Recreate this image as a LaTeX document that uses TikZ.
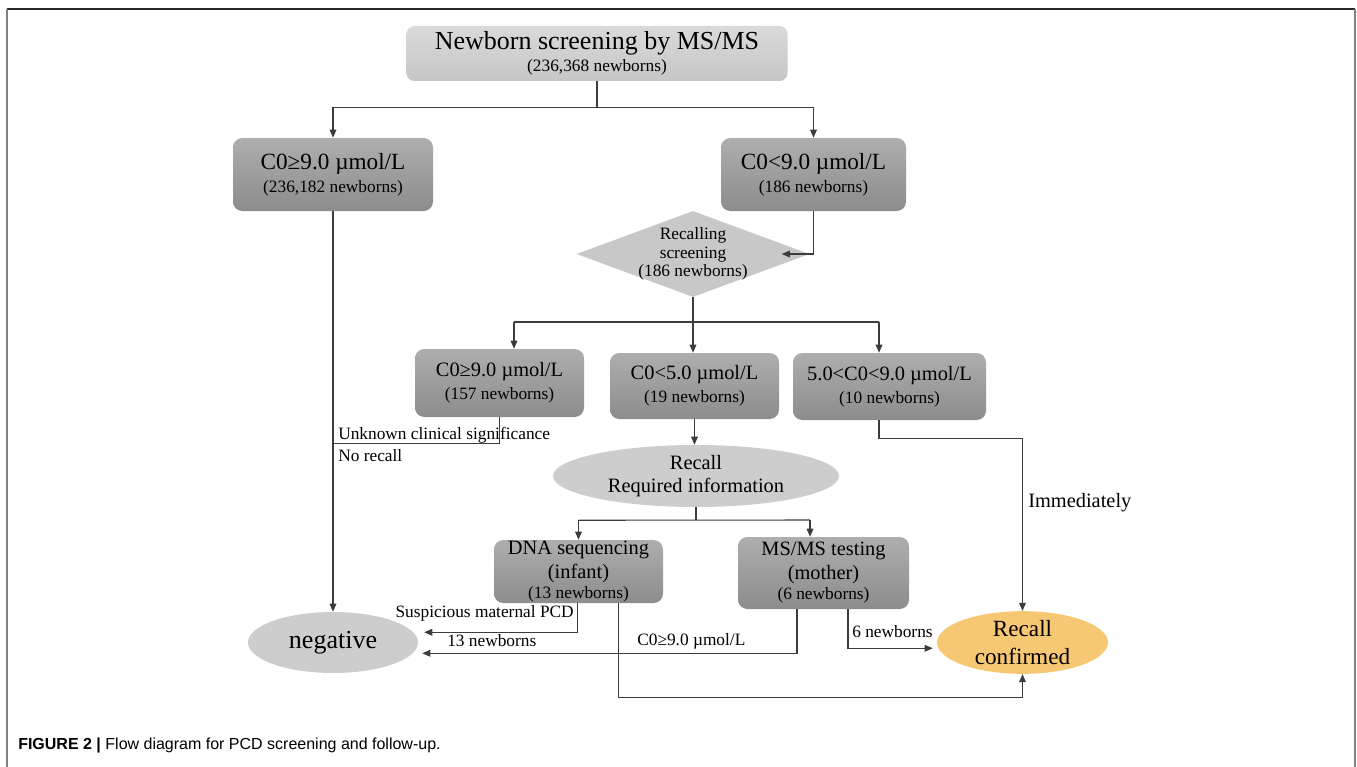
\documentclass[tikz,border=0pt]{standalone}
\usepackage{fontspec}
\setmainfont{Liberation Serif}
\newfontfamily\capfont{Liberation Sans}
\usepackage{tikz}
\usetikzlibrary{shapes.geometric, arrows.meta, positioning, calc}
\definecolor{cTopA}{RGB}{218,218,218}
\definecolor{cTopB}{RGB}{198,198,198}
\definecolor{cBoxA}{RGB}{174,174,174}
\definecolor{cBoxB}{RGB}{140,140,140}
\definecolor{cDiam}{RGB}{200,200,200}
\definecolor{cOval}{RGB}{205,205,205}
\definecolor{cConf}{RGB}{247,200,115}
\definecolor{cLine}{RGB}{60,60,60}
\newcommand{\countline}[1]{{\fontsize{13}{15}\selectfont #1}}
\tikzset{
	topbox/.style  ={rectangle, rounded corners=6pt, minimum width=285.75pt, minimum height=41.25pt, align=center, top color=cTopA, bottom color=cTopB, inner sep=0pt, font=\fontsize{19.5}{16.5}\selectfont},
	graybox/.style ={rectangle, rounded corners=7pt, minimum height=54.75pt, align=center, top color=cBoxA, bottom color=cBoxB, inner sep=0pt, font=\fontsize{17.4}{17}\selectfont},
	midbox/.style  ={rectangle, rounded corners=7pt, align=center, top color=cBoxA, bottom color=cBoxB, inner sep=0pt, font=\fontsize{15.3}{17}\selectfont},
	decision/.style={diamond, aspect=2.7, minimum width=174.75pt, minimum height=64.5pt, fill=cDiam, inner sep=-8pt, align=center, font=\fontsize{13}{14}\selectfont},
	oval/.style    ={ellipse, fill=cOval, inner sep=0pt, align=center},
	flowarrow/.style={-{Triangle[length=6pt, width=5pt]}, draw=cLine, line width=0.8pt},
	conn/.style    ={draw=cLine, line width=0.8pt},
	lbl/.style     ={inner sep=0pt, font=\fontsize{13}{15}\selectfont},
}
\begin{document}
\begin{tikzpicture}[x=0.75pt, y=-0.75pt]
	\useasboundingbox (0,0) rectangle (1357,767);
	% frame of the figure
	\draw[black!85, line width=1pt] (7,9) -- (1355,9);
	\draw[gray, line width=1.2pt] (7,9) -- (7,767) (1355,9) -- (1355,767);

	\node[topbox] (nbs) at (597,53.5) {Newborn screening by MS/MS\\\countline{(236,368 newborns)}};
	\node[graybox, minimum width=150pt] (hi) at (333,174.5) {C0≥9.0 µmol/L\\\countline{(236,182 newborns)}};
	\node[graybox, minimum width=138.75pt] (lo) at (813.5,174.5) {C0<9.0 µmol/L\\\countline{(186 newborns)}};
	\node[decision] (rs) at (693,254) {Recalling\\screening\\(186 newborns)};

	\node[midbox, minimum width=126.75pt, minimum height=51pt] (hi2) at (499.5,383) {C0≥9.0 µmol/L\\\countline{(157 newborns)}};
	\node[midbox, minimum width=126.75pt, minimum height=49.5pt] (mid) at (694.5,386) {C0<5.0 µmol/L\\\countline{(19 newborns)}};
	\node[midbox, minimum width=144.75pt, minimum height=50.25pt] (lo2) at (889.5,386.5) {5.0<C0<9.0 µmol/L\\\countline{(10 newborns)}};

	\node[oval, minimum width=214.5pt, minimum height=46.5pt, font=\fontsize{15.3}{17}\selectfont] (rec) at (696,476) {Recall\\Required information};
	\node[midbox, minimum width=126.75pt, minimum height=47.25pt, font=\fontsize{15.3}{18}\selectfont] (dna) at (578.5,571.5) {DNA sequencing\\(infant)\\[-3pt]\countline{(13 newborns)}};
	\node[midbox, minimum width=128.25pt, minimum height=54pt, font=\fontsize{15.3}{18}\selectfont] (mom) at (823.5,573) {MS/MS testing\\(mother)\\[-3pt]\countline{(6 newborns)}};

	\node[oval, minimum width=127.5pt, minimum height=45.75pt, font=\fontsize{19.5}{22}\selectfont] (neg) at (333,642.5) {negative};
	\node[oval, fill=cConf, minimum width=128.25pt, minimum height=45.75pt, font=\fontsize{17.4}{21}\selectfont] (conf) at (1022.5,642.5) {Recall\\confirmed};

	% first split
	\draw[conn] (nbs.south) -- ++(0,26) coordinate (s1);
	\draw[flowarrow] (s1) -| (hi.north);
	\draw[flowarrow] (s1) -| (lo.north);
	\draw[flowarrow] (lo.south) |- ($(rs.east)+(-28,0)$);
	\draw[flowarrow] (hi.south) -- (neg.north);

	% recall screening split
	\draw[conn] (rs.south) -- ++(0,25) coordinate (s2);
	\coordinate (s2l) at (514,322);
	\coordinate (s2r) at (879,322);
	\draw[conn] (s2l) -- (s2r);
	\draw[flowarrow] (s2l) -- (s2l |- hi2.north);
	\draw[flowarrow] (s2) -- (s2 |- mid.north);
	\draw[flowarrow] (s2r) -- (s2r |- lo2.north);

	\draw[conn] (hi2.south) -- ++(0,26) coordinate (u1) -- (u1 -| hi.south);
	\node[lbl, anchor=west] (unk) at (338,435) {Unknown clinical significance};
	\node[lbl, anchor=west] (norc) at (338,456) {No recall};

	\draw[flowarrow] (mid.south) -- (mid.south |- rec.north);
	\draw[flowarrow] (lo2.south -| s2r) -- ++(0,18) -| (conf.north);
	\node[lbl, anchor=west, font=\fontsize{15.3}{17}\selectfont] (imm) at (1028,503) {Immediately};

	% required information split
	\draw[conn] (rec.south) -- ++(0,13) coordinate (s3);
	\coordinate (s3r) at (810,520);
	\draw[conn] (s3 -| dna.north) -- (s3r);
	\draw[flowarrow] (s3 -| dna.north) -- (dna.north);
	\draw[flowarrow] (s3r) -- (s3r |- mom.north);

	% outcomes
	\draw[flowarrow] ($(dna.south)+(-1,0)$) -- ++(0,29) coordinate (d1) -- ($(d1 -| neg.east)+(6,0)$);
	\node[lbl, anchor=east] (susp) at (574,613) {Suspicious maternal PCD};
	\node[lbl, anchor=west] (n13) at (447,641) {13 newborns};
	\draw[flowarrow] ($(dna.south)+(40,0)$) -- ++(0,94) -| (conf.south);

	\draw[flowarrow] ($(mom.south)+(-26.5,0)$) -- ++(0,44) coordinate (m1) -- ($(m1 -| neg.east)+(4,0)$);
	\node[lbl, anchor=west] (c09) at (637,641) {C0≥9.0 µmol/L};
	\draw[flowarrow] ($(mom.south)+(24.5,0)$) -- ++(0,39) coordinate (m2) -- ($(m2 -| conf.west)+(-4,0)$);
	\node[lbl, anchor=west] (n6) at (852,632) {6 newborns};

	\node[anchor=west, inner sep=0pt, font=\capfont\fontsize{12}{14}\selectfont] (cap) at (18,745) {\textbf{FIGURE 2 |} Flow diagram for PCD screening and follow-up.};
\end{tikzpicture}
\end{document}
